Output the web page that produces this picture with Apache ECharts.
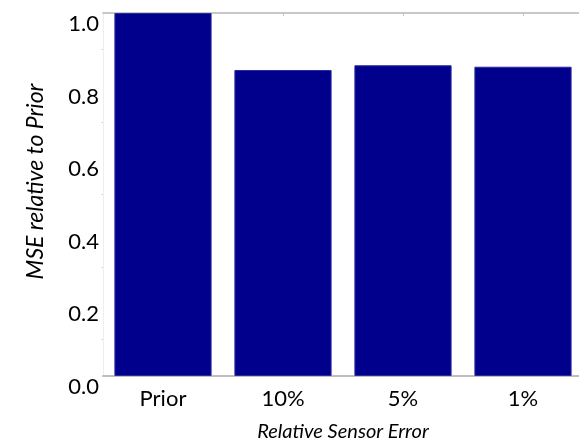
<!DOCTYPE html>
<html>
<head>
<meta charset="utf-8">
<script src="https://cdn.jsdelivr.net/npm/echarts@6/dist/echarts.min.js"></script>
<style>
html,body{margin:0;padding:0;background:#fff;}
#chart{width:579px;height:439px;}
</style>
</head>
<body>
<div id="chart"></div>
<script>
const categories = ['Prior', '10%', '5%', '1%'];
const mseValues = [1.0, 0.843, 0.856, 0.852];
const yTicks = [0, 0.2, 0.4, 0.6, 0.8, 1.0];
const xTitle = 'Relative Sensor Error';
const yTitle = 'MSE relative to Prior';

const font = 'Lato, "Open Sans", sans-serif';
const chart = echarts.init(document.getElementById('chart'));
chart.setOption({
  animation: false,
  backgroundColor: '#ffffff',
  grid: { left: 103, right: -4, top: 13, bottom: 63, containLabel: false, outerBoundsMode: 'none' },
  xAxis: [{
    type: 'category',
    data: categories,
    position: 'bottom',
    axisLine: { show: true, lineStyle: { color: '#bdbdbd', width: 2 } },
    axisTick: { show: false },
    axisLabel: { color: '#000', fontFamily: font, fontSize: 22, margin: 12 },
    name: xTitle,
    nameLocation: 'middle',
    nameGap: 46,
    nameMoveOverlap: false,
    nameTextStyle: { color: '#000', fontFamily: font, fontSize: 20, fontStyle: 'italic' }
  }, {
    type: 'category',
    data: categories,
    position: 'top',
    axisLine: { show: true, lineStyle: { color: '#c8c8c8', width: 2 } },
    axisTick: { show: true, inside: true, alignWithLabel: true, length: 3, lineStyle: { color: '#c8c8c8' } },
    axisLabel: { show: false }
  }],
  yAxis: {
    type: 'value',
    min: yTicks[0],
    max: yTicks[yTicks.length - 1],
    interval: 0.2,
    axisLine: { show: true, lineStyle: { color: '#eeeeee', width: 1 } },
    axisTick: { show: false },
    minorTick: { show: true, splitNumber: 2, length: 2, lineStyle: { color: '#dddddd' } },
    splitLine: { show: false },
    axisLabel: {
      color: '#000', fontFamily: font, fontSize: 22, margin: 4,
      verticalAlign: 'top',
      formatter: v => v.toFixed(1)
    },
    name: yTitle,
    nameLocation: 'middle',
    nameGap: 56,
    nameMoveOverlap: false,
    nameTextStyle: { color: '#000', fontFamily: font, fontSize: 23, fontStyle: 'italic', padding: [0, 0, 0, 26] }
  },
  series: [{
    type: 'bar',
    data: mseValues,
    xAxisIndex: 0,
    barCategoryGap: '19%',
    itemStyle: { color: '#00008c', borderColor: '#2a2aa0', borderWidth: 1 }
  }]
});
</script>
</body>
</html>
